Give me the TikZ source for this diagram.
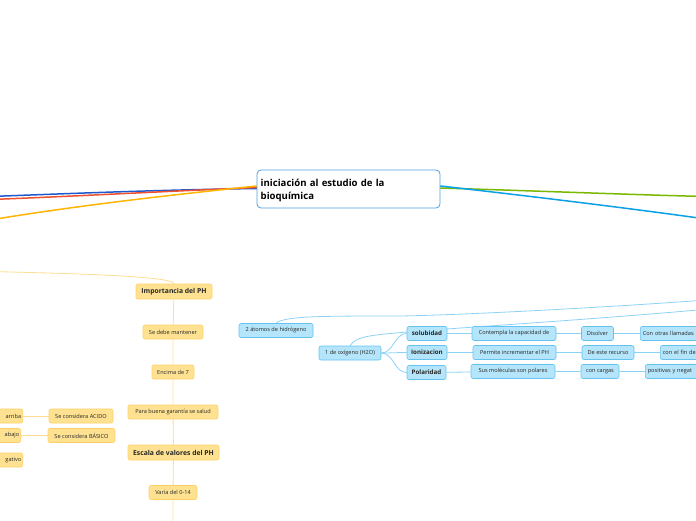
\documentclass[tikz,border=0pt]{standalone}
\usepackage{fontspec}
\setmainfont{Open Sans}
\usetikzlibrary{backgrounds}
\definecolor{ofill}{RGB}{255,226,145}
\definecolor{oborder}{RGB}{255,208,100}
\definecolor{oline}{RGB}{255,220,145}
\definecolor{bfill}{RGB}{180,229,250}
\definecolor{bborder}{RGB}{100,195,240}
\definecolor{bline}{RGB}{140,210,245}
\definecolor{cborder}{RGB}{80,160,225}
\definecolor{brblue}{RGB}{30,90,205}
\definecolor{brred}{RGB}{240,80,45}
\definecolor{brorange}{RGB}{255,180,0}
\definecolor{brgreen}{RGB}{120,185,0}
\definecolor{brcyan}{RGB}{10,160,232}
\tikzset{
  box/.style={rectangle, rounded corners=2pt, line width=0.6pt, inner sep=0pt,
    minimum height=14pt, font=\fontsize{5.6}{6.5}\selectfont, text=black!85},
  obox/.style={box, fill=ofill, draw=oborder},
  bbox/.style={box, fill=bfill, draw=bborder},
  bold/.style={font=\fontsize{6.8}{7.5}\selectfont\bfseries, minimum height=15pt},
  bsmall/.style={font=\fontsize{6.2}{7}\selectfont\bfseries},
  oconn/.style={draw=oline, line width=0.8pt},
  bconn/.style={draw=bline, line width=0.8pt},
  branch/.style={line width=1.5pt, line cap=round},
  central/.style={rectangle, rounded corners=4pt, draw=cborder, line width=0.8pt, fill=white,
    minimum width=183pt, minimum height=38pt, inner sep=0pt},
  centraltext/.style={text width=179pt, align=left, inner sep=0pt, anchor=north west,
    font=\fontsize{9.6}{13.5}\selectfont\bfseries}
}
\begin{document}
\begin{tikzpicture}[x=1pt,y=-1pt]
\useasboundingbox (0,0) rectangle (696,520);
\clip (0,0) rectangle (696,520);
% central
\node[central] (c) at (348.5,189) {};
\node[centraltext] (ct) at (260.5,178.5) {iniciación al estudio de la\\bioquímica};
% branch ends
\coordinate (lb) at (-10,196.5);
\coordinate (lr) at (-10,199.5);
\coordinate (lo) at (-10,220);
\coordinate (rg) at (706,196.5);
\coordinate (rc) at (706,219);
% orange column
\node[obox,bold,minimum width=76pt] (imp) at (174,291.5) {Importancia del PH};
\node[obox,minimum width=60pt] (sdm) at (173,332) {Se debe mantener};
\node[obox,minimum width=42pt] (enc) at (173,372) {Encima de 7};
\node[obox,minimum width=90pt] (para) at (173,412) {Para buena garantía se salud};
\node[obox,bold,minimum width=91pt] (esc) at (173.5,452.5) {Escala de valores del PH};
\node[obox,minimum width=48pt] (var) at (173,492.5) {Varía del 0-14};
\coordinate (vbot) at (173,525);
\coordinate (ol) at (-10,271.5);
\node[obox,minimum width=45pt,text width=42pt,align=right,anchor=east] (arr) at (23,416) {arriba};
\node[obox,minimum width=64pt] (acido) at (81,416) {Se considera ACIDO};
\node[obox,minimum width=45pt,text width=42pt,align=right,anchor=east] (aba) at (21,435.5) {abajo};
\node[obox,minimum width=67pt] (basico) at (81.5,435.5) {Se considera BÁSICO};
\node[obox,minimum width=45pt,text width=42pt,align=right,anchor=east] (neg) at (23,460) {gativo};
% blue branch
\node[bbox,minimum width=74pt] (h2) at (276,330.5) {2 átomos de hidrógeno};
\node[bbox,minimum width=62pt] (oxi) at (350,353) {1 de oxígeno (H2O)};
\node[bbox,bsmall,minimum width=40pt] (sol) at (427,333.5) {solubidad};
\node[bbox,bsmall,minimum width=40pt] (ion) at (427,352.5) {Ionizacion};
\node[bbox,bsmall,minimum width=39pt] (pol) at (426.5,372.5) {Polaridad};
\node[bbox,minimum width=84pt] (cont) at (514,333.5) {Contempla la capacidad de};
\node[bbox,minimum width=32pt] (dis) at (597.5,333.5) {Disolver};
\node[bbox,minimum width=72pt,text width=67pt,align=left,anchor=west] (otr) at (640,333.5) {Con otras llamadas};
\node[bbox,minimum width=52pt,text width=47pt,align=left,anchor=west] (fin) at (660,352.5) {con el fin de};
\node[bbox,minimum width=83pt] (perm) at (514.5,352.5) {Permite incrementar el PH};
\node[bbox,minimum width=52pt] (dee) at (608,352.5) {De este recurso};
\node[bbox,minimum width=84pt] (sus) at (513,371.5) {Sus  moléculas son polares};
\node[bbox,minimum width=38pt] (car) at (600,371.5) {con cargas};
\node[bbox,minimum width=64pt,text width=59pt,align=left,anchor=west] (pos) at (645,371.5) {positivas y negat};
\coordinate (rb1) at (720,299);
\coordinate (rb2) at (720,308);
\begin{pgfonlayer}{background}
  % main branches
  \draw[branch,brblue] ([yshift=0.5pt]c.west) .. controls (150,190) and (60,194) .. (lb);
  \draw[branch,brred] ([yshift=1.5pt]c.west) .. controls (150,192) and (60,197) .. (lr);
  \draw[branch,brorange] ([yshift=3pt]c.west) .. controls (180,194) and (80,205) .. (lo);
  \draw[branch,brgreen] ([yshift=1pt]c.east) .. controls (540,191) and (640,195) .. (rg);
  \draw[branch,brcyan] ([yshift=3pt]c.east) .. controls (520,195) and (620,207) .. (rc);
  % orange
  \draw[oconn] (ol) .. controls (100,274) and (172,277) .. (imp.north);
  \draw[oconn] (imp) -- (sdm) -- (enc) -- (para) -- (esc) -- (var) -- (vbot);
  \draw[oconn] (arr.east) -- (acido.west);
  \draw[oconn] (aba.east) -- (basico.west);
  % blue
  \draw[bconn] (rb1) .. controls (600,308) and (460,315) .. (400,316) .. controls (320,316) and (285,316) .. (h2.north);
  \draw[bconn] (rb2) .. controls (600,319) and (470,327) .. (420,331) .. controls (370,335) and (356,336) .. (oxi.north);
  \draw[bconn] (oxi.east) to[out=0,in=180] (sol.west);
  \draw[bconn] (oxi.east) to[out=0,in=180] (ion.west);
  \draw[bconn] (oxi.east) to[out=0,in=180] (pol.west);
  \draw[bconn] (sol) -- (cont) -- (dis) -- (otr);
  \draw[bconn] (ion) -- (perm) -- (dee) -- (fin);
  \draw[bconn] (pol) -- (sus) -- (car) -- (pos);
\end{pgfonlayer}
\end{tikzpicture}
\end{document}
